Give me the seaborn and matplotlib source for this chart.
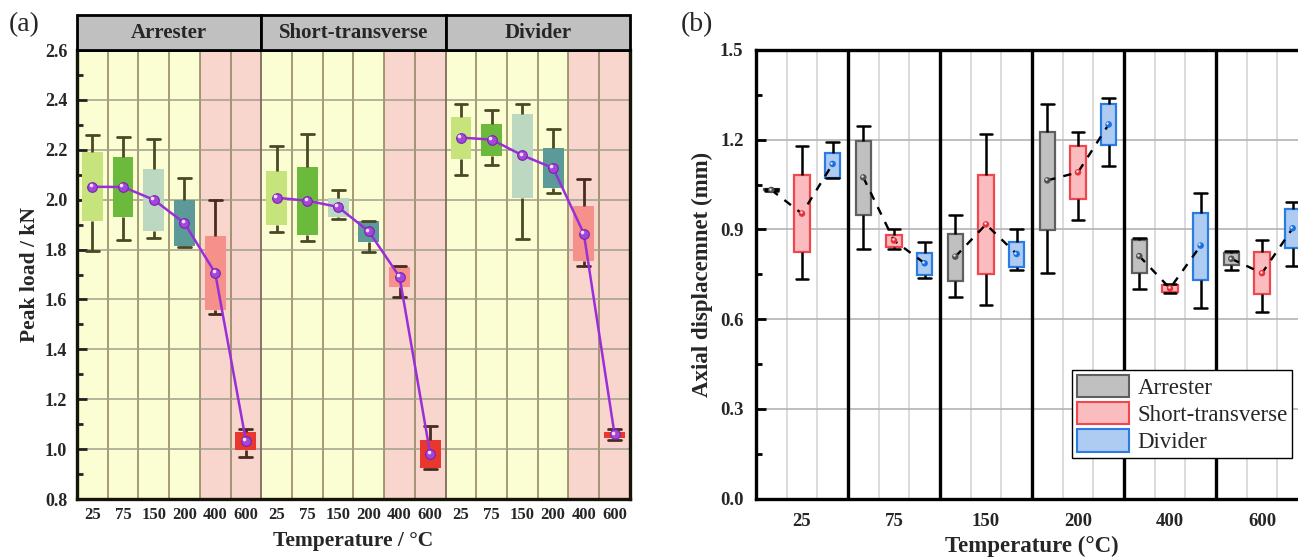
import matplotlib
matplotlib.use("Agg")
import matplotlib.pyplot as plt
from matplotlib.patches import Rectangle, Patch
from matplotlib.ticker import MultipleLocator, FixedLocator
from matplotlib.transforms import ScaledTranslation
import numpy as np
import pandas as pd
import seaborn as sns

temperatures = ["25", "75", "150", "200", "400", "600"]
orientations = ["Arrester", "Short-transverse", "Divider"]

# Peak load (kN); order: Arrester 25..600, Short-transverse 25..600, Divider 25..600
load_min = [1.794, 1.837, 1.847, 1.810, 1.542, 0.967,
            1.870, 1.834, 1.924, 1.790, 1.611, 0.921,
            2.098, 2.138, 1.844, 2.027, 1.733, 1.037]
load_q1 = [1.914, 1.929, 1.873, 1.813, 1.556, 0.996,
           1.900, 1.860, 1.930, 1.829, 1.649, 0.923,
           2.162, 2.174, 2.008, 2.047, 1.753, 1.043]
load_mean = [2.052, 2.051, 2.000, 1.906, 1.706, 1.033,
             2.008, 1.996, 1.971, 1.873, 1.691, 0.980,
             2.249, 2.241, 2.178, 2.127, 1.864, 1.059]
load_q3 = [2.190, 2.173, 2.124, 1.997, 1.853, 1.068,
           2.114, 2.132, 2.008, 1.914, 1.730, 1.037,
           2.332, 2.305, 2.345, 2.207, 1.975, 1.070]
load_max = [2.258, 2.252, 2.245, 2.087, 1.999, 1.080,
            2.215, 2.265, 2.040, 1.916, 1.734, 1.093,
            2.385, 2.358, 2.382, 2.282, 2.082, 1.081]

# Axial displacement (mm); same ordering
disp_min = [1.030, 0.835, 0.675, 0.755, 0.701, 0.766,
            0.736, 0.835, 0.649, 0.933, 0.689, 0.625,
            1.071, 0.739, 0.766, 1.113, 0.638, 0.778]
disp_q1 = [1.031, 0.949, 0.728, 0.899, 0.755, 0.782,
           0.824, 0.840, 0.751, 1.003, 0.691, 0.684,
           1.073, 0.747, 0.773, 1.181, 0.731, 0.838]
disp_mean = [1.032, 1.074, 0.809, 1.064, 0.811, 0.802,
             0.953, 0.863, 0.917, 1.091, 0.703, 0.754,
             1.119, 0.787, 0.818, 1.251, 0.846, 0.904]
disp_q3 = [1.034, 1.197, 0.885, 1.227, 0.865, 0.821,
           1.081, 0.883, 1.081, 1.178, 0.715, 0.824,
           1.157, 0.821, 0.857, 1.321, 0.955, 0.967]
disp_max = [1.035, 1.245, 0.949, 1.318, 0.871, 0.829,
            1.180, 0.902, 1.220, 1.227, 0.719, 0.866,
            1.193, 0.857, 0.902, 1.339, 1.021, 0.992]

temp_colors = ["#c6e47b", "#6bba3c", "#bcd8c0", "#5b9a99", "#f5918a", "#e8372f"]
box_face = ["#c0c0c0", "#fbbcbf", "#aecbf1"]
box_edge = ["#5f5f5f", "#f0474f", "#2a7be2"]
dot_colors = ["#505050", "#e8303a", "#1b6fe0"]
hot_temps = ["400", "600"]

sns.set_theme(style="ticks")
plt.rcParams["font.family"] = ["Liberation Serif", "DejaVu Serif"]
plt.rcParams["font.weight"] = "bold"
plt.rcParams["axes.labelweight"] = "bold"

n_t = len(temperatures)
n_o = len(orientations)
n_slots = n_t * n_o


def long_frame(stats, slot_of):
    rows = []
    for i, o in enumerate(orientations):
        for j, t in enumerate(temperatures):
            k = i * n_t + j
            for s in stats:
                rows.append({"slot": slot_of(i, j), "Orientation": o,
                             "Temperature": t, "value": s[k]})
    return pd.DataFrame(rows)


load_df = long_frame([load_min, load_q1, load_mean, load_q3, load_max],
                     lambda i, j: i * n_t + j)
disp_df = long_frame([disp_min, disp_q1, disp_mean, disp_q3, disp_max],
                     lambda i, j: j * n_o + i)

fig = plt.figure(figsize=(12.98, 5.57), dpi=100)

# ---------------- (a) peak load ----------------
ax = fig.add_axes([0.0593, 0.1041, 0.426, 0.806])
order = list(range(n_slots))

for i in range(n_o):
    ax.axvspan(i * n_t - 0.5, i * n_t + 3.5, color="#fbfdd3", zorder=0, lw=0)
    ax.axvspan(i * n_t + 3.5, i * n_t + 5.5, color="#f8d6cd", zorder=0, lw=0)

for temps_subset, wcol in [([t for t in temperatures if t not in hot_temps], "#4b4826"),
                           (hot_temps, "#4a2b20")]:
    sub = load_df[load_df["Temperature"].isin(temps_subset)]
    sns.boxplot(data=sub, x="slot", y="value", hue="Temperature", order=order,
                hue_order=temperatures, palette=temp_colors, dodge=False,
                width=0.68, whis=(0, 100), saturation=1, showfliers=False,
                boxprops=dict(linewidth=0), medianprops=dict(visible=False),
                whiskerprops=dict(color=wcol, linewidth=2),
                capprops=dict(color=wcol, linewidth=2), capwidths=0.42,
                legend=False, ax=ax)

load_means = pd.DataFrame({"slot": order, "mean": load_mean,
                           "Orientation": np.repeat(orientations, n_t)})
sns.lineplot(data=load_means, x="slot", y="mean", units="Orientation",
             estimator=None, color="#9a2ed8", linewidth=1.8, legend=False,
             zorder=4, ax=ax)
sns.scatterplot(data=load_means, x="slot", y="mean", color="#a247d8",
                edgecolor="#7a20b4", linewidth=0.8, s=48, zorder=5,
                legend=False, ax=ax)
hl = ax.transData + ScaledTranslation(-1.2 / 72, 1.2 / 72, fig.dpi_scale_trans)
ax.scatter(load_means["slot"], load_means["mean"], s=7, color="#f3defe",
           linewidths=0, zorder=6, transform=hl)

ax.set_xlim(-0.5, n_slots - 0.5)
ax.set_ylim(0.8, 2.6)
ax.set_xticks(order)
ax.set_xticklabels(temperatures * n_o)
ax.yaxis.set_major_locator(MultipleLocator(0.2))
ax.yaxis.set_minor_locator(MultipleLocator(0.1))
ax.yaxis.set_major_formatter(matplotlib.ticker.FormatStrFormatter("%.1f"))
ax.xaxis.set_minor_locator(FixedLocator([k + 0.5 for k in range(n_slots - 1)
                                         if (k + 1) % n_t != 0]))
ax.set_axisbelow(True)
ax.yaxis.grid(True, which="major", color="#a39f8c", linewidth=1.1)
ax.xaxis.grid(True, which="minor", color=(0.55, 0.5, 0.35, 0.28), linewidth=1.1)
for b in range(1, n_o):
    ax.axvline(b * n_t - 0.5, color="#7d6b5b", linewidth=1.3, zorder=1)
ax.tick_params(axis="y", which="major", direction="in", length=7, width=2,
               labelsize=13, pad=7, color="#222222")
ax.tick_params(axis="y", which="minor", direction="in", length=4, width=2,
               color="#222222")
ax.tick_params(axis="x", which="both", length=0, labelsize=12, pad=6)
for lab in ax.get_xticklabels() + ax.get_yticklabels():
    lab.set_fontweight("bold")
for side in ["left", "bottom", "right"]:
    ax.spines[side].set_linewidth(2.4)
    ax.spines[side].set_color("#141408")
ax.spines["top"].set_linewidth(2)
ax.spines["top"].set_color("black")

strip_h = 35 / 449
for i, o in enumerate(orientations):
    ax.add_patch(Rectangle((i / n_o, 1.0), 1 / n_o, strip_h, transform=ax.transAxes,
                           facecolor="#c0c0c0", edgecolor="black", linewidth=2,
                           clip_on=False, zorder=10))
    ax.text(i / n_o + 0.5 / n_o, 1.0 + strip_h / 2, o, transform=ax.transAxes,
            ha="center", va="center", fontsize=15, fontweight="bold", zorder=11)

ax.set_xlabel("Temperature / °C", fontsize=15.5, fontweight="bold")
ax.set_ylabel("Peak load / kN", fontsize=15.5, fontweight="bold")
ax.xaxis.set_label_coords(0.5, -0.072)
ax.yaxis.set_label_coords(-0.066, 0.5)

# ---------------- (b) axial displacement ----------------
ax2 = fig.add_axes([0.5824, 0.1047, 0.4253, 0.8056])

for i, o in enumerate(orientations):
    sub = disp_df[disp_df["Orientation"] == o]
    sns.boxplot(data=sub, x="slot", y="value", order=order, color=box_face[i],
                linecolor=box_edge[i], saturation=1, width=0.5, whis=(0, 100),
                showfliers=False, linewidth=1.6,
                medianprops=dict(visible=False),
                whiskerprops=dict(color="black", linewidth=1.8),
                capprops=dict(color="black", linewidth=1.8), capwidths=0.42,
                ax=ax2)

disp_means = pd.DataFrame({
    "slot": [j * n_o + i for i in range(n_o) for j in range(n_t)],
    "mean": disp_mean,
    "Orientation": np.repeat(orientations, n_t),
    "Temperature": temperatures * n_o,
}).sort_values("slot")
sns.lineplot(data=disp_means, x="slot", y="mean", units="Temperature",
             estimator=None, color="black", linewidth=1.7,
             linestyle=(0, (3.5, 3.5)), legend=False, zorder=4, ax=ax2)
sns.scatterplot(data=disp_means, x="slot", y="mean", hue="Orientation",
                hue_order=orientations, palette=dot_colors, s=22,
                edgecolor="none", zorder=5, legend=False, ax=ax2)
hl2 = ax2.transData + ScaledTranslation(-0.9 / 72, 0.9 / 72, fig.dpi_scale_trans)
ax2.scatter(disp_means["slot"], disp_means["mean"], s=3, color="white",
            alpha=0.85, linewidths=0, zorder=6, transform=hl2)

ax2.set_xlim(-0.5, n_slots - 0.5)
ax2.set_ylim(0, 1.5)
group_centres = [j * n_o + (n_o - 1) / 2 for j in range(n_t)]
ax2.set_xticks(group_centres)
ax2.set_xticklabels(temperatures)
ax2.xaxis.set_minor_locator(FixedLocator([k + 0.5 for k in range(n_slots - 1)
                                          if (k + 1) % n_o != 0]))
ax2.yaxis.set_major_locator(MultipleLocator(0.3))
ax2.yaxis.set_minor_locator(MultipleLocator(0.15))
ax2.yaxis.set_major_formatter(matplotlib.ticker.FormatStrFormatter("%.1f"))
ax2.set_axisbelow(True)
ax2.yaxis.grid(True, which="major", color="#b4b4b4", linewidth=1.2)
ax2.xaxis.grid(True, which="minor", color="#d6d6d6", linewidth=1.2)
for j in range(1, n_t):
    ax2.axvline(j * n_o - 0.5, color="black", linewidth=2.4, zorder=1.5)
ax2.tick_params(axis="y", which="major", direction="in", length=7, width=2,
                labelsize=13.5, pad=9, color="black")
ax2.tick_params(axis="y", which="minor", direction="in", length=4, width=2,
                color="black")
ax2.tick_params(axis="x", which="both", length=0, labelsize=13.5, pad=10)
for lab in ax2.get_xticklabels() + ax2.get_yticklabels():
    lab.set_fontweight("bold")
for side in ["left", "bottom", "top", "right"]:
    ax2.spines[side].set_linewidth(2.4)
    ax2.spines[side].set_color("black")

ax2.set_xlabel("Temperature (°C)", fontsize=16.5, fontweight="bold")
ax2.set_ylabel("Axial displacemnet (mm)", fontsize=16.5, fontweight="bold")
ax2.xaxis.set_label_coords(0.5, -0.083)
ax2.yaxis.set_label_coords(-0.077, 0.5)

handles = [Patch(facecolor=box_face[i], edgecolor=box_edge[i], linewidth=1.5,
                 label=o) for i, o in enumerate(orientations)]
leg = ax2.legend(handles=handles, loc="lower left", bbox_to_anchor=(0.5725, 0.0907),
                 borderaxespad=0, fancybox=False, framealpha=1, edgecolor="black",
                 prop={"family": "Liberation Serif", "weight": "normal", "size": 16.5},
                 handlelength=2.3, handleheight=1.12, handletextpad=0.35,
                 labelspacing=0.15, borderpad=0.2)
leg.get_frame().set_linewidth(1.0)
leg.set_zorder(20)

fig.text(0.019, 0.955, "(a)", fontsize=20, fontweight="normal", ha="center", va="center")
fig.text(0.537, 0.955, "(b)", fontsize=20, fontweight="normal", ha="center", va="center")

fig.savefig("out.png", dpi=100)
